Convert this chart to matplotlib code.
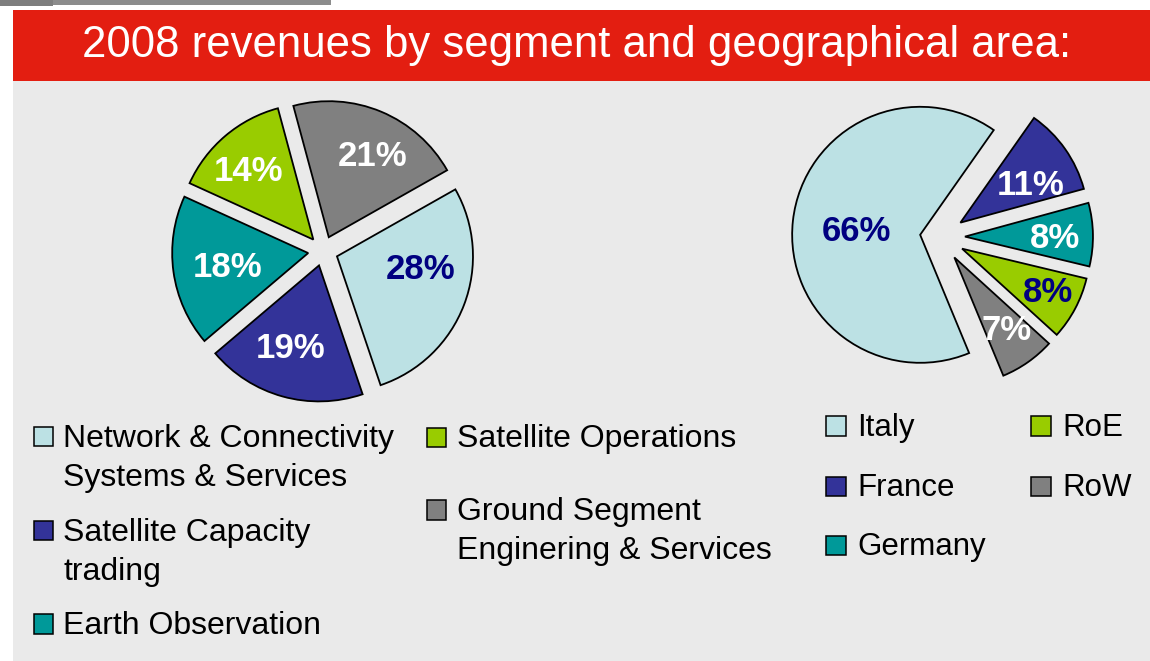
import numpy as np
import matplotlib.pyplot as plt
from matplotlib.patches import Rectangle
from matplotlib.transforms import Affine2D

plt.rcParams['font.family'] = ['Liberation Sans', 'DejaVu Sans']

# revenue split by business segment (%)
segments = ["Network & Connectivity\nSystems & Services",
            "Satellite Capacity\ntrading",
            "Earth Observation",
            "Satellite Operations",
            "Ground Segment\nEnginering & Services"]
segment_share = [28, 19, 18, 14, 21]

# revenue split by geographical area (%)
areas = ["Italy", "France", "Germany", "RoE", "RoW"]
area_share = [66, 11, 8, 8, 7]

LIGHT = "#BCE1E4"
PURPLE = "#333399"
TEAL = "#009999"
LIME = "#99CC00"
GREY = "#808080"
NAVY = "#000080"

segment_colors = [LIGHT, PURPLE, TEAL, LIME, GREY]
segment_text = [NAVY, "white", "white", "white", "white"]
area_colors = [LIGHT, PURPLE, TEAL, LIME, GREY]
area_text = [NAVY, "white", "white", NAVY, "white"]

W, H = 1150, 661
fig = plt.figure(figsize=(W / 100, H / 100), dpi=100, facecolor="white")
# pixel coordinates, origin top-left
pix = Affine2D().scale(1 / W, -1 / H).translate(0, 1) + fig.transFigure


def box(x, y, w, h, zorder=-1, **kw):
    fig.add_artist(Rectangle((x, y), w, h, transform=pix, zorder=zorder, **kw))


# page furniture (kept behind the pie axes)
box(0, 0, 331, 4.5, facecolor="#8C8C8C", edgecolor="none")
box(0, 0, 53, 5.5, facecolor="#7E7E7E", edgecolor="none")
box(13, 81, W - 13, H - 81, facecolor="#EAEAEA", edgecolor="none")
box(13, 10, W - 13, 71, facecolor="#E31E11", edgecolor="none")
fig.text(577, 57.5, "2008 revenues by segment and geographical area:",
         transform=pix, color="white", fontsize=31.5, ha="center", va="baseline")


def draw_pie(cx, cy, r, values, colors, explode, start, txt_colors, dist, turn, half=160):
    ax = fig.add_axes([(cx - half) / W, 1 - (cy + half) / H, 2 * half / W, 2 * half / H])
    wedges, _ = ax.pie(values, colors=colors, explode=explode, startangle=start,
                       counterclock=False, radius=1,
                       wedgeprops=dict(edgecolor="black", linewidth=1.3))
    # pie() resets the limits, so set the pixel scale afterwards
    lim = half / r
    ax.set_xlim(-lim, lim)
    ax.set_ylim(-lim, lim)
    ax.set_aspect("equal")
    ax.axis("off")
    for w, v, c, d, t in zip(wedges, values, txt_colors, dist, turn):
        ang = np.radians((w.theta1 + w.theta2) / 2 + t)
        x = w.center[0] + d * w.r * np.cos(ang)
        y = w.center[1] + d * w.r * np.sin(ang)
        ax.text(x, y, f"{v}%", color=c, fontsize=25, fontweight="bold",
                ha="center", va="center_baseline")
    return ax


ax1 = draw_pie(323, 251, 136, segment_share, segment_colors, [0.11] * 5, 29.5,
               segment_text, [0.62, 0.62, 0.60, 0.71, 0.70], [14, -4, 0, 2, -5])

ax2 = draw_pie(940, 237, 128, area_share, area_colors,
               [0.156, 0.195, 0.195, 0.195, 0.195], -67.5,
               area_text, [0.50, 0.63, 0.70, 0.74, 0.68], [0, -5, 0, 3, 2])


def legend(labels, colors, cols, rows, size, step=39.5, sq=19.5):
    # cols: (square x, text x) per column; rows: first baseline of each entry
    n0 = len(rows[0])
    for i, (lab, col) in enumerate(zip(labels, colors)):
        c = 0 if i < n0 else 1
        base = rows[c][i if c == 0 else i - n0]
        sx, tx = cols[c]
        box(sx, base - sq - 0.5, sq, sq, zorder=2, facecolor=col,
            edgecolor="black", linewidth=1.1)
        for k, line in enumerate(lab.split("\n")):
            fig.text(tx, base + k * step, line, transform=pix, fontsize=size,
                     color="black", ha="left", va="baseline")


legend(segments, segment_colors, [(33.5, 63), (426.5, 457)],
       [[446.5, 540.5, 634], [447.5, 520]], 23)
legend(areas, area_colors, [(826, 857), (1031, 1062)],
       [[436, 496.5, 555.5], [436, 496.5]], 22.5)

fig.savefig("out.png", dpi=100, facecolor=fig.get_facecolor())
